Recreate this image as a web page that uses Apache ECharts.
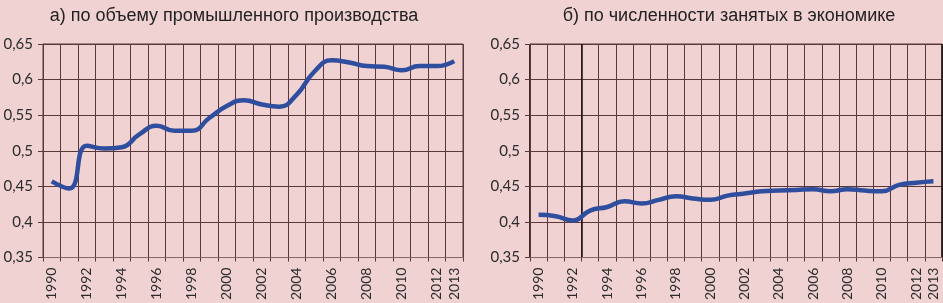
<!DOCTYPE html>
<html>
<head>
<meta charset="utf-8">
<script src="https://cdn.jsdelivr.net/npm/echarts@6/dist/echarts.min.js"></script>
<style>
    html, body {margin: 0; padding: 0; background: #f0d2d3;}
    #chartWrap {width: 943px; height: 303px;}
</style>
</head>
<body>
<div id="chartWrap"></div>
<script>
// годы
const years = ['1990', '1991', '1992', '1993', '1994', '1995', '1996', '1997', '1998', '1999', '2000', '2001',
    '2002', '2003', '2004', '2005', '2006', '2007', '2008', '2009', '2010', '2011', '2012', '2013'];

// а) по объему промышленного производства
const industry = [0.457, 0.447, 0.507, 0.503, 0.505, 0.523, 0.535, 0.528, 0.528, 0.546, 0.563, 0.571,
    0.565, 0.562, 0.579, 0.611, 0.627, 0.624, 0.619, 0.618, 0.613, 0.619, 0.619, 0.626];

// б) по численности занятых в экономике
const employed = [0.410, 0.408, 0.402, 0.416, 0.421, 0.429, 0.426, 0.431, 0.436, 0.433, 0.431, 0.437,
    0.440, 0.443, 0.444, 0.445, 0.446, 0.443, 0.446, 0.444, 0.443, 0.452, 0.455, 0.457];

const titles = ['а) по объему промышленного производства', 'б) по численности занятых в экономике'];
const yMin = 0.35, yMax = 0.65, yStep = 0.05;

const gridColor = '#5a383a';
const lineColor = '#2f4e9e';

let myChart = echarts.init(document.getElementById('chartWrap'));

function xAxisFor(idx) {
    return {
        type: 'category',
        gridIndex: idx,
        data: years,
        boundaryGap: true,
        axisLine: {lineStyle: {color: '#8a6668', width: 1}},
        axisTick: {show: true, interval: 0, length: 4, lineStyle: {color: gridColor}},
        splitLine: {show: true, interval: 0, lineStyle: {color: gridColor, width: 1}},
        axisLabel: {
            rotate: 90,
            margin: 10,
            fontFamily: 'Lato',
            fontSize: 14,
            color: '#2b2b2b',
            interval: function (i) {
                return i % 2 === 0 || i === years.length - 1;
            }
        }
    };
}

function yAxisFor(idx) {
    return {
        type: 'value',
        gridIndex: idx,
        min: yMin,
        max: yMax,
        interval: yStep,
        axisLine: {show: true, lineStyle: {color: gridColor}},
        axisTick: {show: true, length: 5, lineStyle: {color: gridColor}},
        splitLine: {lineStyle: {color: gridColor, width: 1}},
        axisLabel: {
            margin: 10,
            fontFamily: 'Lato',
            fontSize: 15,
            color: '#2b2b2b',
            formatter: function (v) {
                return String(+v.toFixed(2)).replace('.', ',');
            }
        }
    };
}

function seriesFor(idx, data) {
    return {
        type: 'line',
        xAxisIndex: idx,
        yAxisIndex: idx,
        data: data,
        smooth: 0.5,
        showSymbol: false,
        lineStyle: {color: lineColor, width: 4.5},
        itemStyle: {color: lineColor}
    };
}

// тёмная линия между 1992 и 1993 на правом графике
const markAxis = {
    type: 'category',
    gridIndex: 1,
    data: years,
    boundaryGap: true,
    axisLine: {show: false},
    axisTick: {show: false},
    axisLabel: {show: false},
    splitLine: {
        show: true,
        interval: function (i) {
            return i === 0 || i === 3;
        },
        lineStyle: {color: '#1a1012', width: 1.5}
    }
};

myChart.setOption({
    animation: false,
    backgroundColor: '#f0d2d3',
    title: [
        {text: titles[0], left: 229, top: 2, textAlign: 'center',
            textStyle: {fontFamily: 'Liberation Sans', fontWeight: 'normal', fontSize: 18, color: '#222'}},
        {text: titles[1], left: 724, top: 2, textAlign: 'center',
            textStyle: {fontFamily: 'Liberation Sans', fontWeight: 'normal', fontSize: 18, color: '#222'}}
    ],
    grid: [
        {left: 43, top: 44, width: 420, height: 215, show: true, borderColor: gridColor, borderWidth: 1},
        {left: 530, top: 44, width: 412, height: 215, show: true, borderColor: gridColor, borderWidth: 1}
    ],
    xAxis: [xAxisFor(0), xAxisFor(1), markAxis],
    yAxis: [yAxisFor(0), yAxisFor(1)],
    series: [seriesFor(0, industry), seriesFor(1, employed)]
});
</script>
</body>
</html>
